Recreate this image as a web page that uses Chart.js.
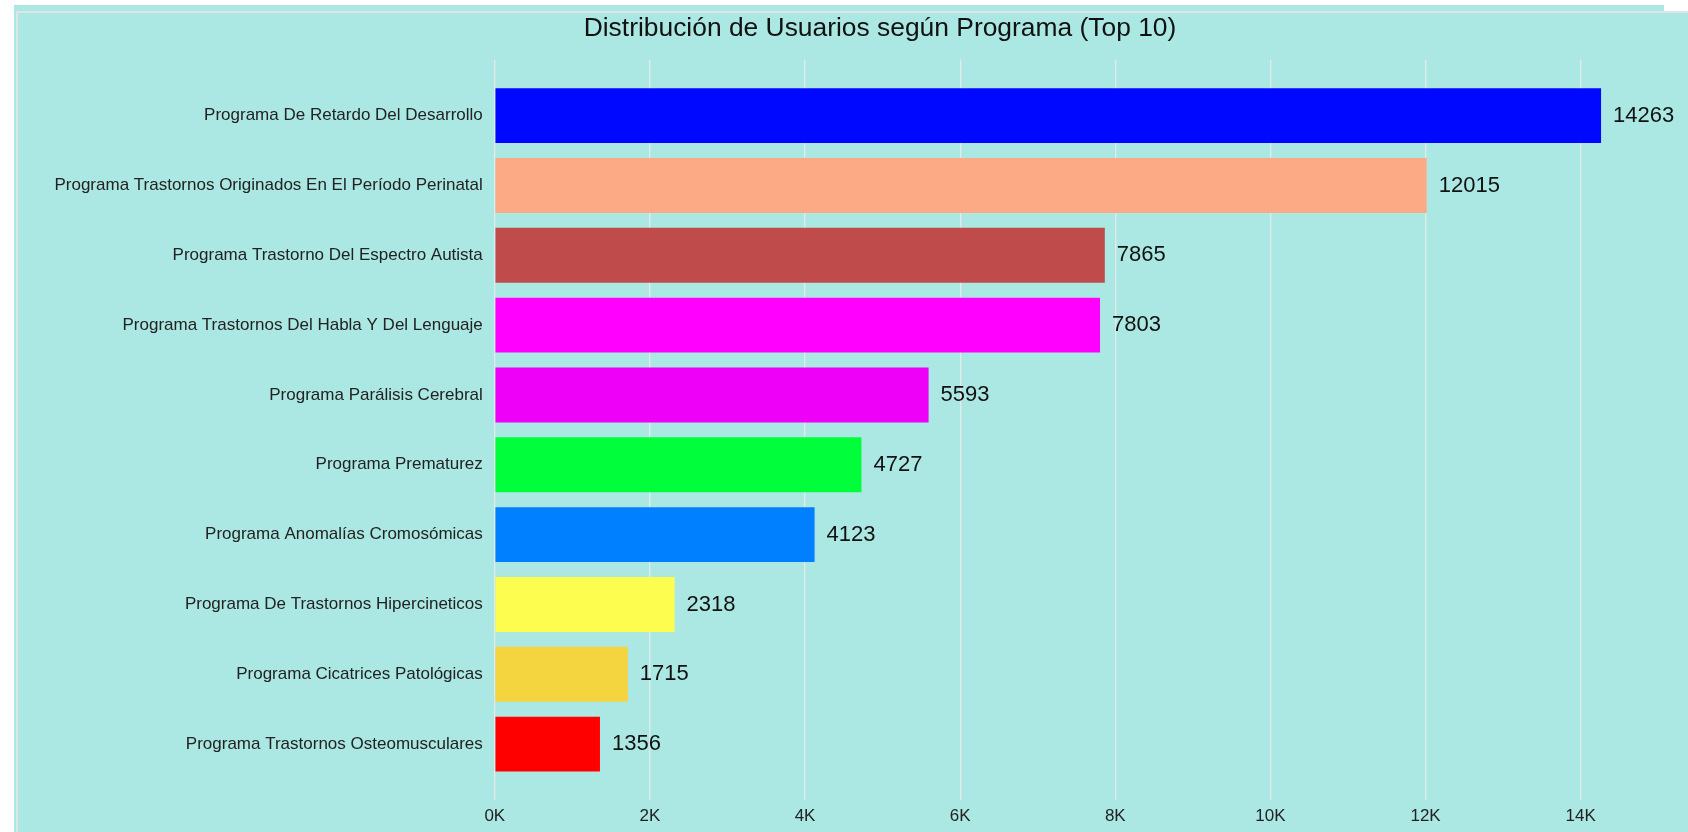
<!DOCTYPE html>
<html>
<head>
<meta charset="utf-8">
<script src="https://cdn.jsdelivr.net/npm/chart.js@4.4.0/dist/chart.umd.min.js"></script>
<style>
  html, body { margin:0; padding:0; background:#ffffff; width:1688px; height:832px; overflow:hidden; }
  #outer { position:absolute; left:14px; top:5px; width:1650px; height:827px; background:#ace8e3; }
  #inner { position:absolute; left:16px; top:11px; width:1740px; height:840px; background:#ace8e3;
           border-top:2px solid #dde5e5; border-left:2px solid #dde5e5; }
  #wrap { position:absolute; left:18px; top:13px; width:1724px; height:819px; }
</style>
</head>
<body>
<div id="outer"></div>
<div id="inner"></div>
<div id="wrap"><canvas id="c"></canvas></div>
<script>
const titleText = 'Distribución de Usuarios según Programa (Top 10)';
const categories = [
  'Programa De Retardo Del Desarrollo',
  'Programa Trastornos Originados En El Período Perinatal',
  'Programa Trastorno Del Espectro Autista',
  'Programa Trastornos Del Habla Y Del Lenguaje',
  'Programa Parálisis Cerebral',
  'Programa Prematurez',
  'Programa Anomalías Cromosómicas',
  'Programa De Trastornos Hipercineticos',
  'Programa Cicatrices Patológicas',
  'Programa Trastornos Osteomusculares'
];
const values = [14263, 12015, 7865, 7803, 5593, 4727, 4123, 2318, 1715, 1356];
const barColors = ['#0008ff', '#fcaa86', '#c04b4b', '#ff00ff', '#ee00f8', '#00ff3a', '#007fff', '#fdfd4f', '#f4d43f', '#ff0000'];
const xTickValues = [0, 2000, 4000, 6000, 8000, 10000, 12000, 14000];

const FONT = '"Liberation Sans", Arial, sans-serif';

const valueLabels = {
  id: 'valueLabels',
  afterDatasetsDraw(chart) {
    const ctx = chart.ctx;
    const meta = chart.getDatasetMeta(0);
    ctx.save();
    ctx.font = '22px ' + FONT;
    ctx.fillStyle = '#111111';
    ctx.textAlign = 'left';
    ctx.textBaseline = 'middle';
    meta.data.forEach((bar, i) => {
      ctx.fillText(String(values[i]), bar.x + 12, bar.y);
    });
    ctx.restore();
  }
};

new Chart(document.getElementById('c'), {
  type: 'bar',
  data: {
    datasets: [{
      data: values.map((v, i) => ({ x: v, y: i })),
      backgroundColor: barColors,
      borderWidth: 0,
      categoryPercentage: 1,
      barPercentage: 0.787
    }]
  },
  options: {
    indexAxis: 'y',
    responsive: true,
    maintainAspectRatio: false,
    animation: false,
    layout: { padding: { left: 0, right: 0, top: 0, bottom: 0 } },
    plugins: {
      legend: { display: false },
      tooltip: { enabled: false },
      title: {
        display: true,
        text: titleText,
        color: '#111111',
        font: { family: FONT, size: 26.4, weight: 'normal', lineHeight: 1.1 },
        padding: { top: 1, bottom: 16.7 }
      }
    },
    scales: {
      x: {
        type: 'linear',
        position: 'bottom',
        min: 0,
        max: 16080,
        offset: false,
        afterBuildTicks: s => { s.ticks = xTickValues.map(v => ({ value: v })); },
        afterFit: s => { s.height = 32; },
        grid: { color: '#e3eaea', lineWidth: 1.3, drawTicks: false, offset: false },
        border: { display: false },
        ticks: {
          padding: 6,
          color: '#222222',
          font: { family: FONT, size: 17 },
          callback: v => (v / 1000) + 'K'
        }
      },
      y: {
        type: 'linear',
        min: -0.8,
        max: 9.8,
        offset: false,
        reverse: true,
        afterBuildTicks: s => { s.ticks = categories.map((c, i) => ({ value: i })); },
        afterFit: s => { s.width = 476.8; },
        grid: { display: false, drawTicks: false, offset: false },
        border: { display: false },
        ticks: {
          padding: 12,
          autoSkip: false,
          color: '#222222',
          font: { family: FONT, size: 17 },
          callback: v => categories[v]
        }
      }
    }
  },
  plugins: [valueLabels]
});
</script>
</body>
</html>
